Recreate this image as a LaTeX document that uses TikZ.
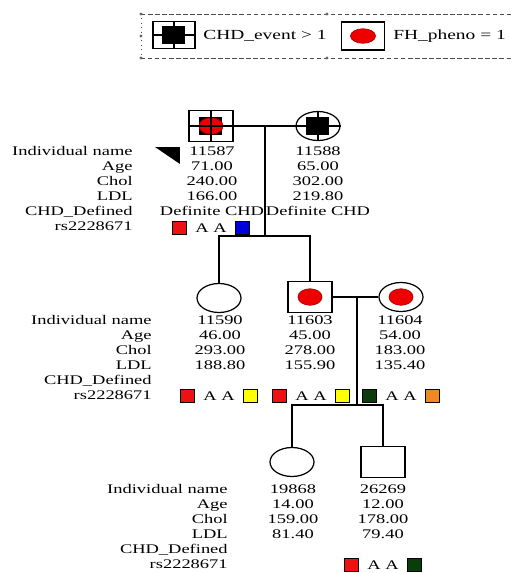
\documentclass[tikz,border=0pt]{standalone}
\usepackage{fontspec}
\setmainfont{Liberation Serif}[FakeStretch=1.4]
\definecolor{fhred}{HTML}{EE0000}
\definecolor{gtred}{HTML}{EE1111}
\definecolor{gtblue}{HTML}{0000DD}
\definecolor{gtyellow}{HTML}{FFFF00}
\definecolor{gtgreen}{HTML}{0B3D0B}
\definecolor{gtorange}{HTML}{EE8822}
\usetikzlibrary{shapes.geometric,positioning}

\begin{document}
\begin{tikzpicture}[
  x=0.2mm, y=-0.2mm,
  font=\fontsize{7.5}{8.54}\selectfont,
  male/.style={draw, rectangle, line width=0.7pt, inner sep=0,
    minimum width=0.88cm, minimum height=0.62cm},
  female/.style={draw, ellipse, line width=0.7pt, inner sep=0,
    minimum width=0.88cm, minimum height=0.58cm},
  chd/.style={fill=black, rectangle, inner sep=0,
    minimum width=0.46cm, minimum height=0.35cm},
  fh/.style={ellipse, fill=fhred, draw=fhred!70!black, inner sep=0,
    minimum width=0.48cm, minimum height=0.33cm},
  lbl/.style={align=right, anchor=north east, inner sep=0},
  val/.style={align=center, anchor=north, inner sep=0},
  gt/.style={draw, rectangle, inner sep=0, minimum size=0.27cm, line width=0.4pt},
  aa/.style={inner sep=0},
  link/.style={line width=0.7pt},
  legframe/.style={line width=0.5pt, black!70, dash pattern=on 2.5pt off 1.5pt}
]
  \path[use as bounding box, fill=white] (0,0) rectangle (511,573);

  % legend
  \draw[legframe] (511,14) -- (141,14);
  \draw[legframe] (141,58) -- (511,58);
  \draw[line width=0.5pt, black!70, dotted] (141,14) -- (141,58);
  \fill[black!60] (141,14) circle (0.9pt) (141,58) circle (0.9pt)
    (141,36) circle (0.9pt) (327,14) circle (0.9pt) (327,58) circle (0.9pt);
  \node[male, minimum width=0.84cm, minimum height=0.55cm] (lg1) at (174,35) {};
  \node[chd] (lg1chd) at (lg1) {};
  \draw[link] (lg1.north) -- (lg1.south) (lg1.west) -- (lg1.east);
  \node[anchor=west, inner sep=0, font=\fontsize{7.9}{9}\selectfont] (lg1txt) at (203,36) {CHD\_event > 1};
  \node[male, minimum width=0.86cm, minimum height=0.56cm] (lg2) at (363,36) {};
  \node[fh, minimum width=0.5cm, minimum height=0.29cm] (lg2fh) at (lg2) {};
  \node[anchor=west, inner sep=0, font=\fontsize{7.9}{9}\selectfont] (lg2txt) at (393,36) {FH\_pheno = 1};

  % generation 1
  \node[male] (p11587) at (211,126) {};
  \node[chd] (p11587chd) at (p11587) {};
  \node[fh] (p11587fh) at (p11587) {};
  \draw[link] (p11587.north) -- (p11587.south) (p11587.west) -- (p11587.east);
  \node[female] (p11588) at (318,126) {};
  \node[chd] (p11588chd) at (p11588) {};
  \draw[link] (p11588.north) -- (p11588.south) (p11588.west) -- (p11588.east);
  \coordinate (mate1) at (265,126);
  \coordinate (sib1) at (265,236);

  \fill (155,147) -- (180,147) -- (180,164) -- cycle;
  \node[lbl] (lab1) at (133,146) {Individual name\\Age\\Chol\\LDL\\CHD\_Defined\\rs2228671};
  \node[val] (v11587) at (212,146) {11587\\71.00\\240.00\\166.00\\Definite CHD};
  \node[val] (v11588) at (318,146) {11588\\65.00\\302.00\\219.80\\Definite CHD};
  \node[aa] (aa11587) at (211,228) {A A};
  \node[gt, fill=gtred, left=1.7mm of aa11587] (g11587a) {};
  \node[gt, fill=gtblue, right=1.7mm of aa11587] (g11587b) {};

  % generation 2
  \node[female] (p11590) at (219,298) {};
  \node[male] (p11603) at (310,297) {};
  \node[fh] (p11603fh) at (p11603) {};
  \node[female] (p11604) at (401,297) {};
  \node[fh] (p11604fh) at (p11604) {};
  \coordinate (mate2) at (357,297);
  \coordinate (sib2) at (357,405);

  \node[lbl] (lab2) at (152,315) {Individual name\\Age\\Chol\\LDL\\CHD\_Defined\\rs2228671};
  \node[val] (v11590) at (220,315) {11590\\46.00\\293.00\\188.80};
  \node[val] (v11603) at (310,315) {11603\\45.00\\278.00\\155.90};
  \node[val] (v11604) at (400,315) {11604\\54.00\\183.00\\135.40};
  \node[aa] (aa11590) at (219,396) {A A};
  \node[gt, fill=gtred, left=1.7mm of aa11590] (g11590a) {};
  \node[gt, fill=gtyellow, right=1.7mm of aa11590] (g11590b) {};
  \node[aa] (aa11603) at (311,396) {A A};
  \node[gt, fill=gtred, left=1.7mm of aa11603] (g11603a) {};
  \node[gt, fill=gtyellow, right=1.7mm of aa11603] (g11603b) {};
  \node[aa] (aa11604) at (401,396) {A A};
  \node[gt, fill=gtgreen, left=1.7mm of aa11604] (g11604a) {};
  \node[gt, fill=gtorange, right=1.7mm of aa11604] (g11604b) {};

  % generation 3
  \node[female] (p19868) at (292,462) {};
  \node[male] (p26269) at (383,462) {};

  \node[lbl] (lab3) at (228,484) {Individual name\\Age\\Chol\\LDL\\CHD\_Defined\\rs2228671};
  \node[val] (v19868) at (293,484) {19868\\14.00\\159.00\\81.40};
  \node[val] (v26269) at (383,484) {26269\\12.00\\178.00\\79.40};
  \node[aa] (aa26269) at (383,565) {A A};
  \node[gt, fill=gtred, left=1.7mm of aa26269] (g26269a) {};
  \node[gt, fill=gtgreen, right=1.7mm of aa26269] (g26269b) {};

  % lines of descent
  \draw[link] (p11587.east) -- (p11588.west);
  \draw[link] (mate1) -- (sib1);
  \draw[link] (p11590.north) |- (sib1) -| (p11603.north);
  \draw[link] (p11603.east) -- (p11604.west);
  \draw[link] (mate2) -- (sib2);
  \draw[link] (p19868.north) |- (sib2) -| (p26269.north);
\end{tikzpicture}
\end{document}
